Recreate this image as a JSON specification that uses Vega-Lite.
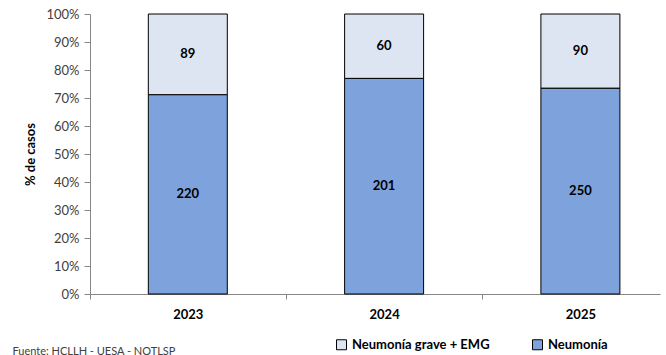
{
  "$schema": "https://vega.github.io/schema/vega-lite/v6.json",
  "width": 570,
  "height": 280,
  "autosize": {"type": "none"},
  "padding": {"left": 90, "top": 14, "right": 6, "bottom": 61},
  "background": "white",
  "config": {
    "font": "Lato",
    "view": {"stroke": null},
    "axisY": {
      "titleFontSize": 13,
      "titleFontWeight": "bold",
      "titleColor": "#000000",
      "titlePadding": 8,
      "format": ".0%",
      "labelOverlap": false,
      "labelFontSize": 13,
      "labelColor": "#404040",
      "labelPadding": 5,
      "grid": false,
      "domainColor": "#868686",
      "tickColor": "#868686",
      "tickSize": 6
    }
  },
  "data": {
    "values": [
      {"anio": "2023", "serie": "Neumonía", "casos": 220},
      {"anio": "2023", "serie": "Neumonía grave + EMG", "casos": 89},
      {"anio": "2024", "serie": "Neumonía", "casos": 201},
      {"anio": "2024", "serie": "Neumonía grave + EMG", "casos": 60},
      {"anio": "2025", "serie": "Neumonía", "casos": 250},
      {"anio": "2025", "serie": "Neumonía grave + EMG", "casos": 90}
    ]
  },
  "transform": [
    {
      "stack": "casos",
      "groupby": ["anio"],
      "sort": [{"field": "serie", "order": "ascending"}],
      "offset": "normalize",
      "as": ["y0", "y1"]
    },
    {"calculate": "(datum.y0 + datum.y1) / 2", "as": "ymid"}
  ],
  "encoding": {
    "x": {
      "field": "anio",
      "type": "nominal",
      "scale": {"paddingInner": 0.5976, "paddingOuter": 0.2507, "align": 0.5925},
      "axis": {
        "title": "Fuente: HCLLH - UESA - NOTLSP",
        "titleX": -78,
        "titleY": 57,
        "titleAlign": "left",
        "titleAnchor": "start",
        "titleBaseline": "middle",
        "titleFontSize": 11,
        "titleFontWeight": "normal",
        "titleColor": "#404040",
        "labelAngle": 0,
        "labelFontSize": 13,
        "labelFontWeight": "bold",
        "labelColor": "#000000",
        "labelPadding": 9,
        "domainColor": "#868686",
        "domainWidth": 1,
        "tickColor": "#868686",
        "tickWidth": 1,
        "tickSize": 5,
        "tickOffset": -98,
        "labelOffset": 98
      }
    }
  },
  "layer": [
    {
      "mark": {"type": "bar", "stroke": "#000000", "strokeWidth": 1},
      "encoding": {
        "y": {
          "field": "y0",
          "type": "quantitative",
          "title": "% de casos",
          "scale": {"domain": [0, 1], "nice": false},
          "axis": {"title": "% de casos", "values": [0, 0.1, 0.2, 0.3, 0.4, 0.5, 0.6, 0.7, 0.8, 0.9, 1]}
        },
        "y2": {"field": "y1"},
        "color": {
          "field": "serie",
          "type": "nominal",
          "scale": {
            "domain": ["Neumonía grave + EMG", "Neumonía"],
            "range": ["#DCE5F1", "#7EA3DC"]
          },
          "legend": {
            "title": null,
            "orient": "none",
            "direction": "horizontal",
            "legendX": 245,
            "legendY": 324,
            "symbolType": "square",
            "symbolSize": 100,
            "symbolStrokeColor": "#000000",
            "symbolStrokeWidth": 1,
            "labelFontSize": 13,
            "labelFontWeight": "bold",
            "labelColor": "#000000",
            "labelOffset": 4,
            "columnPadding": 40
          }
        }
      }
    },
    {
      "mark": {"type": "text", "fontSize": 13, "fontWeight": "bold", "color": "#000000"},
      "encoding": {
        "y": {
          "field": "ymid",
          "type": "quantitative",
          "title": "% de casos",
          "axis": {"title": "% de casos", "values": [0, 0.1, 0.2, 0.3, 0.4, 0.5, 0.6, 0.7, 0.8, 0.9, 1]}
        },
        "text": {"field": "casos", "type": "quantitative"}
      }
    }
  ]
}
